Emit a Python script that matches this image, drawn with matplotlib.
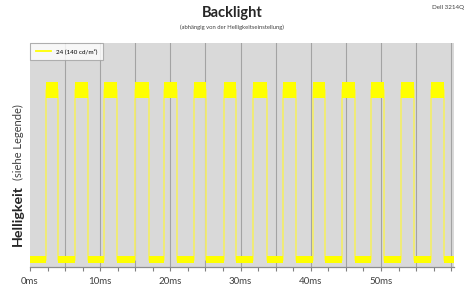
import numpy as np
import matplotlib.pyplot as plt

plt.rcParams['font.family'] = ['Lato', 'DejaVu Sans']

# pulse timing (ms)
pulse_start = [2.3, 6.4, 10.6, 14.9, 19.1, 23.4, 27.6, 31.7, 36.0, 40.3, 44.4, 48.6, 52.9, 57.1]
pulse_end = [4.0, 8.3, 12.4, 16.9, 21.0, 25.1, 29.4, 33.7, 37.9, 42.0, 46.3, 50.4, 54.7, 59.0]
t_end = 60.4

# brightness levels (arbitrary units), noisy plateaus shown as bands
high_band = [75.5, 82.5]
low_band = [1.6, 4.7]
series_label = '24 (140 cd/m²)'
tick_vals = [0, 10, 20, 30, 40, 50]
tick_labels = ['0ms', '10ms', '20ms', '30ms', '40ms', '50ms']

hi = np.mean(high_band)
lo = np.mean(low_band)

# build square wave
t = [0.0]
y = [lo]
for s, e in zip(pulse_start, pulse_end):
  t += [s, s, e, e]
  y += [lo, hi, hi, lo]
t.append(t_end)
y.append(lo)

fig = plt.figure(figsize=(4.7, 3.0), dpi=100)
ax = fig.add_axes([30/470, 1 - 267/300, 424/470, 224/300])
ax.set_facecolor('#d9d9d9')

for g in np.arange(5, t_end, 5):
  ax.axvline(g, color='#a3a3a3', lw=0.8, zorder=1)

line, = ax.plot(t, y, color='#f2ec6e', lw=1.3, zorder=2)

# plateaus
for s, e in zip(pulse_start, pulse_end):
  ax.fill_between([s, e], high_band[0], high_band[1], color='#ffff00', lw=0, zorder=3)
lows_s = [0.0] + pulse_end
lows_e = pulse_start + [t_end]
for s, e in zip(lows_s, lows_e):
  ax.fill_between([s, e], low_band[0], low_band[1], color='#ffff00', lw=0, zorder=3)

ax.set_xlim(0, t_end)
ax.set_ylim(0, 100)
ax.set_yticks([])
ax.set_xticks(tick_vals)
ax.set_xticklabels(tick_labels, fontsize=7, color='#404040')
ax.set_xticks(np.arange(0, t_end, 2.5), minor=True)
ax.tick_params(axis='x', which='both', length=3, width=0.8, color='#808080', pad=4)
for sp in ['left', 'top', 'right']:
  ax.spines[sp].set_visible(False)
ax.spines['bottom'].set_color('#8c8c8c')
ax.spines['bottom'].set_linewidth(0.9)

leg = ax.legend([line], [series_label], loc='upper left', bbox_to_anchor=(0, 1),
                borderaxespad=0, fontsize=4.5, frameon=True, fancybox=False,
                handlelength=2.5, borderpad=0.9)
leg.get_frame().set_edgecolor('#a0a0a0')
leg.get_frame().set_linewidth(0.8)
leg.get_lines()[0].set_color('#ffff00')

fig.text(232/470, 1 - 13/300, 'Backlight', ha='center', va='center', fontsize=10.5, fontweight='bold', color='#262626')
fig.text(232/470, 1 - 27/300, '(abhängig von der Helligkeitseinstellung)', ha='center', va='center', fontsize=4.2, color='#404040')
fig.text(464/470, 1 - 7/300, 'Dell 3214Q', ha='right', va='center', fontsize=4.5, color='#404040')

fig.text(22/470, 1 - 246/300, 'Helligkeit', rotation=90, rotation_mode='anchor', ha='left', va='baseline',
         fontsize=10.3, fontweight='bold', color='#262626')
fig.text(22/470, 1 - 180/300, '(siehe Legende)', rotation=90, rotation_mode='anchor', ha='left', va='baseline',
         fontsize=8, color='#404040')

fig.savefig('out.png', dpi=100)
